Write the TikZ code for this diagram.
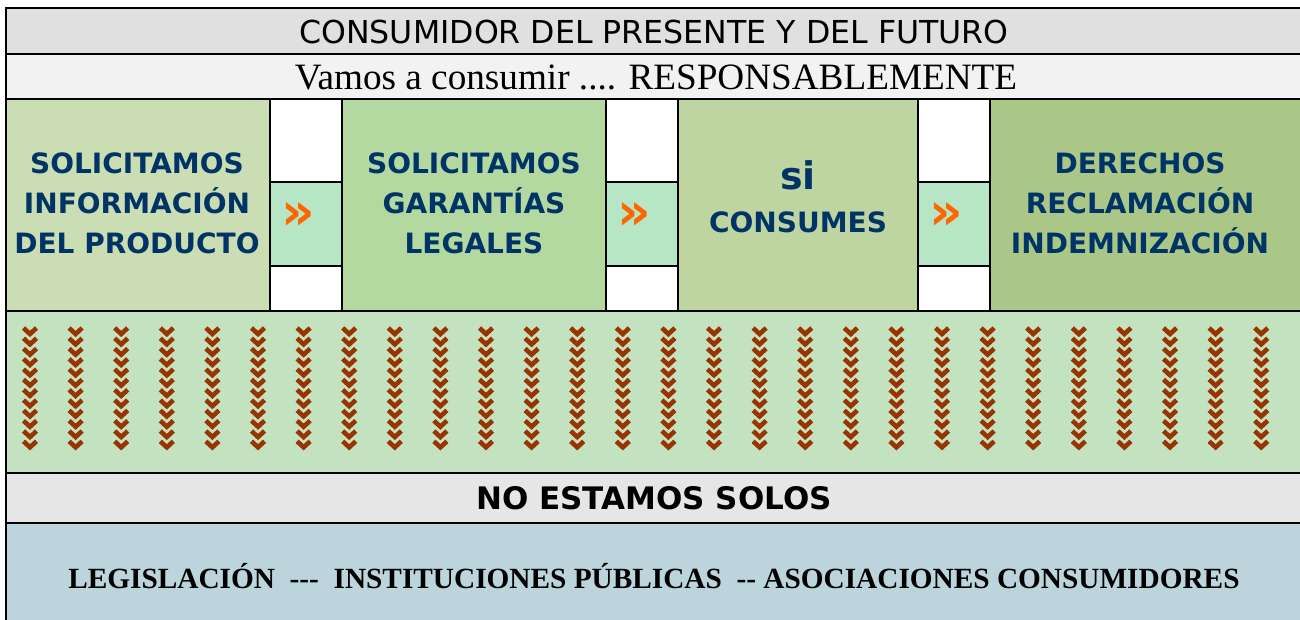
\documentclass[tikz,border=0pt]{standalone}
\usepackage{fontspec}
\setmainfont{Liberation Serif}
\newfontfamily\comicfont{DejaVu Sans}
\definecolor{grisA}{RGB}{224,224,224}
\definecolor{grisB}{RGB}{242,242,242}
\definecolor{grisC}{RGB}{230,230,230}
\definecolor{verdeA}{RGB}{203,221,178}
\definecolor{verdeB}{RGB}{179,217,160}
\definecolor{verdeC}{RGB}{190,213,162}
\definecolor{verdeD}{RGB}{170,199,135}
\definecolor{verdeF}{RGB}{183,230,199}
\definecolor{verdeG}{RGB}{195,226,192}
\definecolor{azulF}{RGB}{188,213,220}
\definecolor{marino}{RGB}{0,51,102}
\definecolor{teja}{RGB}{153,51,0}
\definecolor{naranja}{RGB}{255,102,0}
\tikzset{
  celda/.style={fill=#1,draw=black,line width=1.4pt},
  titulo/.style={font=\comicfont\fontsize{15.8}{18}\selectfont,text=black},
  azul/.style={font=\comicfont\bfseries\fontsize{14}{20}\selectfont,text=marino,align=center},
  flecha/.style={font=\comicfont\bfseries\fontsize{26}{26}\selectfont,text=naranja},
  chev/.style={draw=teja,line width=2.3pt,miter limit=4}
}
\begin{document}
\begin{tikzpicture}[x=0.5pt,y=-0.5pt]
\useasboundingbox (0,0) rectangle (1300,620);
\path[celda=grisA] (6,8) rectangle (1304,54);
\path[celda=grisB] (6,54) rectangle (1304,99);
\path[celda=verdeA] (6,99) rectangle (270,311);
\path[celda=white] (270,99) rectangle (342,182);
\path[celda=verdeF] (270,182) rectangle (342,266);
\path[celda=white] (270,266) rectangle (342,311);
\path[celda=verdeB] (342,99) rectangle (606,311);
\path[celda=white] (606,99) rectangle (678,182);
\path[celda=verdeF] (606,182) rectangle (678,266);
\path[celda=white] (606,266) rectangle (678,311);
\path[celda=verdeC] (678,99) rectangle (918,311);
\path[celda=white] (918,99) rectangle (990,182);
\path[celda=verdeF] (918,182) rectangle (990,266);
\path[celda=white] (918,266) rectangle (990,311);
\path[celda=verdeD] (990,99) rectangle (1304,311);
\path[celda=verdeG] (6,311) rectangle (1304,473);
\path[celda=grisC] (6,473) rectangle (1304,523);
\path[celda=azulF] (6,523) rectangle (1304,624);
\node[titulo] (tit) at (654,32) {CONSUMIDOR DEL PRESENTE Y DEL FUTURO};
\node[font=\fontsize{18.6}{20}\selectfont] (lema) at (656,77) {Vamos a consumir .... RESPONSABLEMENTE};
\node[azul] (info) at (137,203) {SOLICITAMOS\\INFORMACIÓN\\DEL PRODUCTO};
\node[azul] (gara) at (474,203) {SOLICITAMOS\\GARANTÍAS\\LEGALES};
\node[azul,font=\comicfont\bfseries\fontsize{19}{20}\selectfont] (si) at (798,175) {si};
\node[azul] (cons) at (798,222) {CONSUMES};
\node[azul] (dere) at (1140,203) {DERECHOS\\RECLAMACIÓN\\INDEMNIZACIÓN};
\node[flecha] (arrA) at (298,216) {»};
\node[flecha] (arrB) at (634,216) {»};
\node[flecha] (arrC) at (946,216) {»};
\foreach \i in {0,...,27}
  \foreach \j in {0,...,11}
    \draw[chev] ({30+45.6*\i-6.5},{331+10.3*\j-3}) -- ++(6.5,6) -- ++(6.5,-6);
\node[titulo,font=\comicfont\bfseries\fontsize{15.5}{18}\selectfont] (solos) at (654,498) {NO ESTAMOS SOLOS};
\node[font=\bfseries\fontsize{14.65}{16}\selectfont] (inst) at (654,576) {LEGISLACIÓN\ \ -{}-{}-\ \ INSTITUCIONES PÚBLICAS\ \ -{}-\ ASOCIACIONES CONSUMIDORES};
\end{tikzpicture}
\end{document}
